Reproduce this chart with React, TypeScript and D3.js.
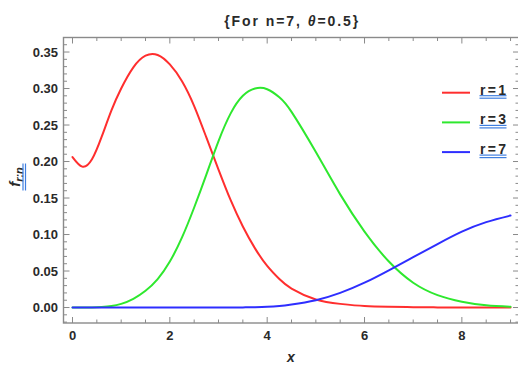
import React from "react";
import * as d3 from "d3";

const xValues = [0, 0.2, 0.4, 0.6, 0.8, 1.0, 1.25, 1.5, 1.75, 2.0, 2.25, 2.5, 2.75, 3.0, 3.25, 3.5, 3.75, 4.0, 4.25, 4.5, 5.0, 5.5, 6.0, 6.5, 7.0, 7.5, 8.0, 8.5, 9.0];
const seriesR1 = [0.206, 0.193, 0.203, 0.234, 0.270, 0.300, 0.329, 0.345, 0.346, 0.333, 0.310, 0.276, 0.233, 0.189, 0.147, 0.111, 0.081, 0.057, 0.039, 0.026, 0.011, 0.005, 0.002, 0.001, 0.0005, 0.0002, 0.0001, 0, 0];
const seriesR3 = [0, 0, 0.0002, 0.0008, 0.002, 0.005, 0.012, 0.023, 0.039, 0.063, 0.096, 0.137, 0.182, 0.228, 0.266, 0.290, 0.300, 0.299, 0.288, 0.268, 0.213, 0.155, 0.104, 0.063, 0.034, 0.017, 0.008, 0.003, 0.001];
const seriesR7 = [0, 0, 0, 0, 0, 0, 0, 0, 0, 0, 0, 0, 0, 0, 0.0001, 0.0002, 0.0005, 0.001, 0.002, 0.004, 0.010, 0.020, 0.034, 0.051, 0.069, 0.087, 0.104, 0.117, 0.126];
const legendLabels = ["r=1", "r=3", "r=7"];
const seriesColors = ["#ff2e2e", "#2ee82e", "#2e2eff"];
const xMajorTicks = [0, 2, 4, 6, 8];
const yMajorTicks = [0, 0.05, 0.1, 0.15, 0.2, 0.25, 0.3, 0.35];

const W = 518;
const H = 381;
const L = 63.5, R = 519, T = 37.5, B = 323;

export default function App() {
  const x = d3.scaleLinear().domain([-0.185, 9.174]).range([L, R]);
  const y = d3.scaleLinear().domain([-0.0212, 0.3699]).range([B, T]);
  const series = [seriesR1, seriesR3, seriesR7];
  const line = d3
    .line<[number, number]>()
    .x((d) => x(d[0]))
    .y((d) => y(d[1]))
    .curve(d3.curveNatural);

  const xMinor = d3.range(0, 9.01, 0.5).filter((v) => !xMajorTicks.includes(v));
  const yMinor = d3
    .range(-2, 37)
    .map((i) => i / 100)
    .filter((v) => Math.round(v * 100) % 5 !== 0);

  const tickColor = "#8a8a8a";
  const textColor = "#2a2a2a";
  const font = "'Liberation Sans', Arial, sans-serif";
  const ulColor = "#3f7fe0";
  const legendX0 = 442, legendX1 = 470, legendY0 = 92.7, legendDy = 29.7;

  return (
    <svg width={W} height={H} style={{ position: "absolute", left: 0, top: 0, background: "#fff" }} fontFamily={font}>
      {/* curves */}
      <g fill="none" strokeWidth={2} strokeLinejoin="round" strokeLinecap="round">
        {series.map((s, i) => (
          <path key={i} d={line(xValues.map((xv, j) => [xv, s[j]]) as [number, number][]) || ""} stroke={seriesColors[i]} />
        ))}
      </g>

      {/* frame */}
      <rect x={L} y={T} width={R - L} height={B - T} fill="none" stroke={tickColor} strokeWidth={1.4} />

      {/* ticks */}
      <g stroke={tickColor} strokeWidth={1}>
        {xMajorTicks.map((v) => (
          <g key={"xm" + v}>
            <line x1={x(v)} x2={x(v)} y1={B} y2={B - 6} />
            <line x1={x(v)} x2={x(v)} y1={T} y2={T + 6} />
          </g>
        ))}
        {xMinor.map((v) => (
          <g key={"xn" + v}>
            <line x1={x(v)} x2={x(v)} y1={B} y2={B - 3.5} />
            <line x1={x(v)} x2={x(v)} y1={T} y2={T + 3.5} />
          </g>
        ))}
        {yMajorTicks.map((v) => (
          <g key={"ym" + v}>
            <line x1={L} x2={L + 6} y1={y(v)} y2={y(v)} />
            <line x1={R} x2={R - 6} y1={y(v)} y2={y(v)} />
          </g>
        ))}
        {yMinor.map((v) => (
          <g key={"yn" + v}>
            <line x1={L} x2={L + 3.5} y1={y(v)} y2={y(v)} />
            <line x1={R} x2={R - 3.5} y1={y(v)} y2={y(v)} />
          </g>
        ))}
      </g>

      {/* tick labels */}
      <g fill={textColor} fontSize={13} fontWeight="bold">
        {xMajorTicks.map((v) => (
          <text key={"xl" + v} x={x(v)} y={340} textAnchor="middle">
            {String(v)}
          </text>
        ))}
        {yMajorTicks.map((v) => (
          <text key={"yl" + v} x={58} y={y(v)} dy="0.35em" textAnchor="end">
            {v.toFixed(2)}
          </text>
        ))}
      </g>

      {/* title */}
      <text x={(L + R) / 2} y={26} textAnchor="middle" fontSize={14} fontWeight="bold" fill={textColor} textLength={134} lengthAdjust="spacing">
        {"{For n=7, "}
        <tspan fontStyle="italic">θ</tspan>
        {"=0.5}"}
      </text>

      {/* x axis label */}
      <text x={291} y={362} textAnchor="middle" fontSize={14} fontWeight="bold" fontStyle="italic" fill={textColor}>
        x
      </text>

      {/* y axis label */}
      <g transform="translate(20,177) rotate(-90)">
        <text x={0} y={0} textAnchor="middle" fontSize={15} fontWeight="bold" fill={textColor}>
          <tspan fontStyle="italic">f</tspan>
          <tspan fontStyle="italic" fontSize={11} dy={3}>r:n</tspan>
        </text>
        <line x1={-13.5} x2={13.5} y1={3} y2={3} stroke={ulColor} strokeWidth={1.2} />
        <line x1={-13.5} x2={13.5} y1={5.5} y2={5.5} stroke={ulColor} strokeWidth={1.2} />
      </g>

      {/* legend */}
      {legendLabels.map((lab, i) => {
        const ly = legendY0 + i * legendDy;
        return (
          <g key={lab}>
            <line x1={legendX0} x2={legendX1} y1={ly} y2={ly} stroke={seriesColors[i]} strokeWidth={2} />
            <text x={480} y={ly + 2} fontSize={14} fontWeight="bold" fill={textColor} textLength={26} lengthAdjust="spacing">
              {lab}
            </text>
            <line x1={479.5} x2={506.5} y1={ly + 3} y2={ly + 3} stroke={ulColor} strokeWidth={1.2} />
            <line x1={479.5} x2={506.5} y1={ly + 5.5} y2={ly + 5.5} stroke={ulColor} strokeWidth={1.2} />
          </g>
        );
      })}
    </svg>
  );
}
